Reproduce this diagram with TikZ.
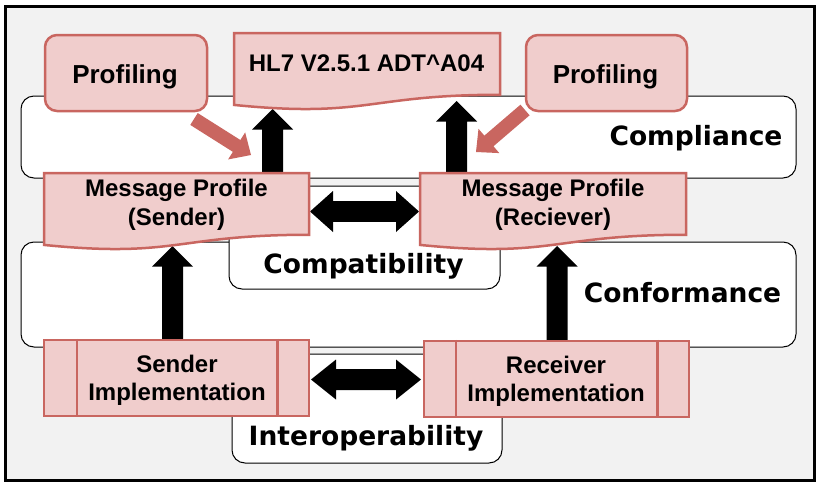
\documentclass[tikz,border=0pt]{standalone}
\usepackage{fontspec}
\setmainfont{Liberation Sans}
\newfontfamily\vfont{DejaVu Sans}
\usetikzlibrary{calc}
\definecolor{pinkfill}{RGB}{240,205,204}
\definecolor{pinkline}{RGB}{201,102,96}
\definecolor{bggray}{RGB}{242,242,242}
\tikzset{
  pinkshape/.style={draw=pinkline, fill=pinkfill, line width=2.5pt},
  barline/.style={draw=pinkline, line width=2.5pt},
  layer/.style={draw=black, fill=white, line width=1pt, rounded corners=13pt, inner sep=0pt},
  lbl/.style={font=\vfont\bfseries\fontsize{26.5}{30}\selectfont, inner sep=0pt},
  boxtxt/.style={font=\bfseries\fontsize{24}{29}\selectfont, inner sep=0pt},
  proftxt/.style={font=\bfseries\fontsize{26}{30}\selectfont, inner sep=0pt},
}
\newcommand\docshape[4]{\filldraw[pinkshape] (#1,#2) -- ({#1+#3},#2) -- ({#1+#3},{#2+0.802*#4}) .. controls ({#1+#3/2},{#2+0.802*#4}) and ({#1+#3/2},{#2+1.1075*#4}) .. (#1,{#2+0.934*#4}) -- cycle;}
\newcommand\blockarrow[6]{%
  \path ($(#3)!#6!(#2)$) coordinate (bhd);
  \fill[#1] ($(#2)!#4!90:(#3)$) -- ($(bhd)!#4!90:(#3)$) -- ($(bhd)!#5!90:(#3)$) -- (#3)
     -- ($(bhd)!#5!-90:(#3)$) -- ($(bhd)!#4!-90:(#3)$) -- ($(#2)!#4!-90:(#3)$) -- cycle;}
\newcommand\dblarrow[6]{%
  \path ($(#2)!#6!(#3)$) coordinate (bha) ($(#3)!#6!(#2)$) coordinate (bhb);
  \fill[#1] (#2) -- ($(bha)!#5!90:(#3)$) -- ($(bha)!#4!90:(#3)$) -- ($(bhb)!#4!-90:(#2)$)
     -- ($(bhb)!#5!-90:(#2)$) -- (#3) -- ($(bhb)!#5!90:(#2)$) -- ($(bhb)!#4!90:(#2)$)
     -- ($(bha)!#4!-90:(#3)$) -- ($(bha)!#5!-90:(#3)$) -- cycle;}
\begin{document}
\begin{tikzpicture}[x=1pt,y=-1pt]
\useasboundingbox (0,0) rectangle (819,485);
\fill[white] (0,0) rectangle (819,485);
\node[draw=black, line width=3pt, fill=bggray, minimum width=809pt, minimum height=474pt, inner sep=0pt] (frame) at (409.5,243) {};

% layers
\node[layer, minimum width=775pt, minimum height=82pt] (compliance) at (408.5,137) {};
\node[layer, minimum width=775pt, minimum height=105pt] (conformance) at (408.5,294.5) {};
\node[layer, minimum width=271pt, minimum height=103pt] (compat) at (364.5,237.5) {};
\node[layer, minimum width=270pt, minimum height=109pt] (interop) at (367,408.5) {};
\node[lbl, anchor=base] (lcompl) at (696,145) {Compliance};
\node[lbl, anchor=base] (lconf) at (682.5,302) {Conformance};
\node[lbl, anchor=base] (lcompat) at (363.5,273) {Compatibility};
\node[lbl, anchor=base] (linter) at (366,445) {Interoperability};

% arrow end points
\coordinate (a1s) at (272.5,173); \coordinate (a1e) at (272.5,109);
\coordinate (a2s) at (456.5,173); \coordinate (a2e) at (456.5,101);
\coordinate (a3s) at (172.5,340); \coordinate (a3e) at (172.5,246);
\coordinate (a4s) at (557,341);   \coordinate (a4e) at (557,246);
\coordinate (d1a) at (310,211.5); \coordinate (d1b) at (419,211.5);
\coordinate (d2a) at (311,379.5); \coordinate (d2b) at (421,379.5);
\coordinate (p1s) at (194,119);   \coordinate (p1e) at (251,155);
\coordinate (p2s) at (525,110);   \coordinate (p2e) at (476,152);

\blockarrow{black}{a1s}{a1e}{10.5pt}{20.5pt}{20.5pt}
\blockarrow{black}{a2s}{a2e}{10.5pt}{20.5pt}{20.5pt}
\blockarrow{black}{a3s}{a3e}{10.5pt}{20.5pt}{20.5pt}
\blockarrow{black}{a4s}{a4e}{10.5pt}{20.5pt}{20.5pt}
\dblarrow{black}{d1a}{d1b}{10.3pt}{20.5pt}{23pt}
\dblarrow{black}{d2a}{d2b}{10.5pt}{20pt}{25pt}
\blockarrow{pinkline}{p1s}{p1e}{7pt}{16pt}{17pt}
\blockarrow{pinkline}{p2s}{p2e}{7pt}{16pt}{17pt}

% profiling boxes
\node[pinkshape, rounded corners=12pt, minimum width=162pt, minimum height=76pt] (prof1) at (126,73) {};
\node[proftxt, anchor=base] (prof1t) at (125,83) {Profiling};
\node[pinkshape, rounded corners=12pt, minimum width=161pt, minimum height=76pt] (prof2) at (606.5,73) {};
\node[proftxt, anchor=base] (prof2t) at (605.5,83) {Profiling};

% documents
\docshape{234}{33}{266}{77}
\node[boxtxt, anchor=base] (hl7) at (366.5,71) {HL7 V2.5.1 ADT\textasciicircum A04};
\docshape{44}{173}{265}{77}
\node[boxtxt, align=center] (mps) at (176.5,204.3) {Message Profile\\(Sender)};
\docshape{420}{173}{266}{77}
\node[boxtxt, align=center] (mpr) at (553,204.3) {Message Profile\\(Reciever)};

% implementations
\node[pinkshape, minimum width=265pt, minimum height=76pt] (simp) at (176.5,378) {};
\draw[barline] ([xshift=34pt]simp.north west) -- ([xshift=34pt]simp.south west);
\draw[barline] ([xshift=-33pt]simp.north east) -- ([xshift=-33pt]simp.south east);
\node[boxtxt, align=center, font=\bfseries\fontsize{24}{28}\selectfont] (simpt) at (177,380.7) {Sender\\Implementation};
\node[pinkshape, minimum width=265pt, minimum height=76pt] (rimp) at (556.5,379) {};
\draw[barline] ([xshift=33pt]rimp.north west) -- ([xshift=33pt]rimp.south west);
\draw[barline] ([xshift=-33pt]rimp.north east) -- ([xshift=-33pt]rimp.south east);
\node[boxtxt, align=center, font=\bfseries\fontsize{24}{28}\selectfont] (rimpt) at (556,381.7) {Receiver\\Implementation};
\end{tikzpicture}
\end{document}
